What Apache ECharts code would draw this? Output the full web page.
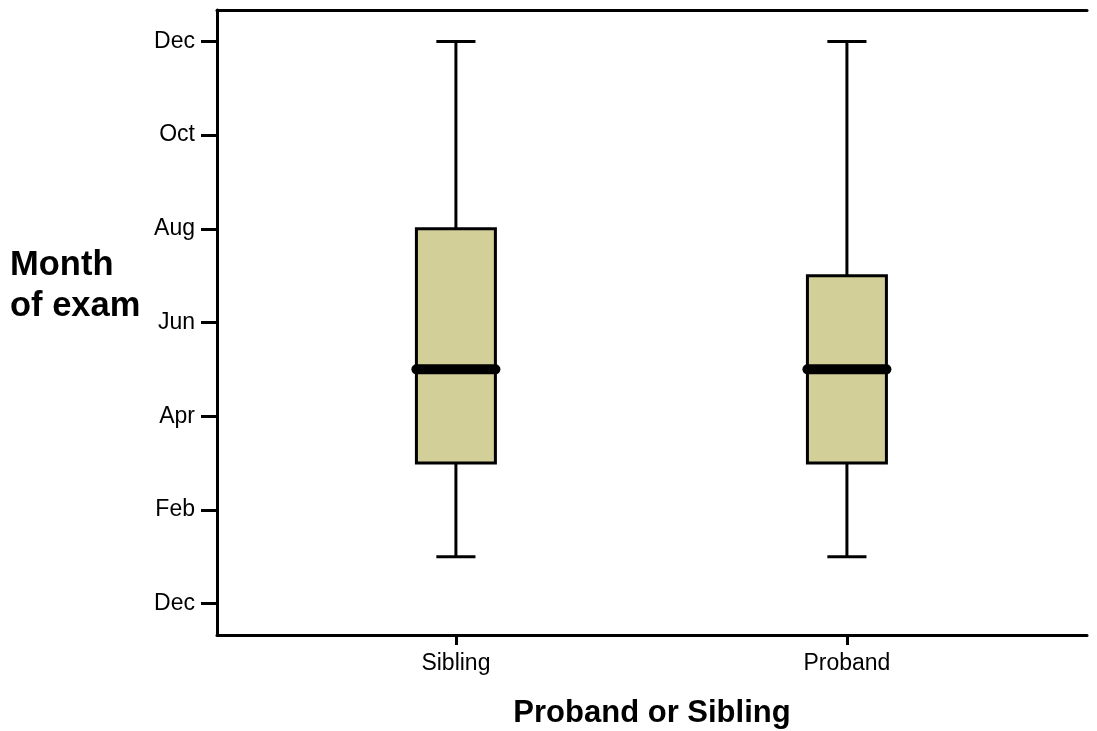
<!DOCTYPE html>
<html>
<head>
<meta charset="utf-8">
<title>Month of exam by group</title>
<script src="https://cdn.jsdelivr.net/npm/echarts@6/dist/echarts.min.js"></script>
<style>
  html, body { margin: 0; padding: 0; background: #fff; }
  #chart { width: 1097px; height: 731px; }
</style>
</head>
<body>
<div id="chart"></div>
<script>
// Groups along the horizontal axis
const categories = ['Sibling', 'Proband'];
// Five-number summaries, in months (0 = previous Dec, 12 = Dec)
const whiskerLow = [1, 1];
const quartile1 = [3, 3];
const medians = [5, 5];
const quartile3 = [8, 7];
const whiskerHigh = [12, 12];
// Month tick positions and their labels
const monthTicks = [0, 2, 4, 6, 8, 10, 12];
const monthLabels = ['Dec', 'Feb', 'Apr', 'Jun', 'Aug', 'Oct', 'Dec'];

const FONT = '"Liberation Sans", Arial, sans-serif';
const BOX_FILL = '#d3cf99';

const boxData = categories.map((c, i) => [
  i + 1, whiskerLow[i], quartile1[i], medians[i], quartile3[i], whiskerHigh[i]
]);

function renderBox(params, api) {
  const x = api.value(0);
  const low = api.coord([x, api.value(1)]);
  const q1 = api.coord([x, api.value(2)]);
  const med = api.coord([x, api.value(3)]);
  const q3 = api.coord([x, api.value(4)]);
  const high = api.coord([x, api.value(5)]);
  const boxW = api.size([0.202, 0])[0];
  const capW = api.size([0.1, 0])[0];
  const cx = low[0];
  const lineStyle = { stroke: '#000', lineWidth: 3, fill: null };
  return {
    type: 'group',
    children: [
      { type: 'line', shape: { x1: cx, y1: high[1], x2: cx, y2: q3[1] }, style: lineStyle },
      { type: 'line', shape: { x1: cx, y1: q1[1], x2: cx, y2: low[1] }, style: lineStyle },
      { type: 'line', shape: { x1: cx - capW / 2, y1: high[1], x2: cx + capW / 2, y2: high[1] }, style: lineStyle },
      { type: 'line', shape: { x1: cx - capW / 2, y1: low[1], x2: cx + capW / 2, y2: low[1] }, style: lineStyle },
      {
        type: 'rect',
        shape: { x: cx - boxW / 2, y: q3[1], width: boxW, height: q1[1] - q3[1] },
        style: { fill: BOX_FILL, stroke: '#000', lineWidth: 3 }
      },
      {
        type: 'line',
        shape: { x1: cx - boxW / 2, y1: med[1], x2: cx + boxW / 2, y2: med[1] },
        style: { stroke: '#000', lineWidth: 10, lineCap: 'round' }
      }
    ]
  };
}

const chart = echarts.init(document.getElementById('chart'), null, { renderer: 'canvas' });
chart.setOption({
  animation: false,
  backgroundColor: '#fff',
  title: {
    text: 'Month\nof exam',
    left: 10,
    top: 245,
    padding: 0,
    textStyle: { fontFamily: FONT, fontSize: 34.5, fontWeight: 'bold', color: '#000', lineHeight: 41 }
  },
  grid: { left: 217, right: 10, top: 10, bottom: 96, outerBoundsMode: 'none', containLabel: false },
  xAxis: [
    {
      type: 'value',
      position: 'bottom',
      min: 0.389,
      max: 2.614,
      name: 'Proband or Sibling',
      nameLocation: 'middle',
      nameGap: 63,
      nameTextStyle: { fontFamily: FONT, fontSize: 31, fontWeight: 'bold', color: '#000' },
      axisLine: { show: true, onZero: false, lineStyle: { color: '#000', width: 3 } },
      axisTick: {
        show: true,
        customValues: [1, 2],
        length: 10,
        lineStyle: { color: '#000', width: 3 }
      },
      splitLine: { show: false },
      axisLabel: {
        customValues: [1, 2],
        formatter: v => categories[Math.round(v) - 1] || '',
        margin: 17,
        fontFamily: FONT,
        fontSize: 23,
        color: '#000'
      }
    },
    {
      type: 'value',
      position: 'top',
      min: 0.389,
      max: 2.614,
      axisLine: { show: true, onZero: false, lineStyle: { color: '#000', width: 3 } },
      axisTick: { show: false },
      axisLabel: { show: false },
      splitLine: { show: false }
    }
  ],
  yAxis: {
    type: 'value',
    min: -0.67,
    max: 12.67,
    axisLine: { show: true, onZero: false, lineStyle: { color: '#000', width: 3 } },
    axisTick: {
      show: true,
      customValues: monthTicks,
      length: 16,
      lineStyle: { color: '#000', width: 3 }
    },
    axisLabel: {
      customValues: monthTicks,
      formatter: v => monthLabels[monthTicks.indexOf(Math.round(v))] || '',
      margin: 22,
      fontFamily: FONT,
      fontSize: 23,
      color: '#000'
    },
    splitLine: { show: false }
  },
  series: [
    {
      type: 'custom',
      renderItem: renderBox,
      encode: { x: 0, y: [1, 2, 3, 4, 5] },
      data: boxData,
      clip: false
    }
  ]
});
</script>
</body>
</html>
